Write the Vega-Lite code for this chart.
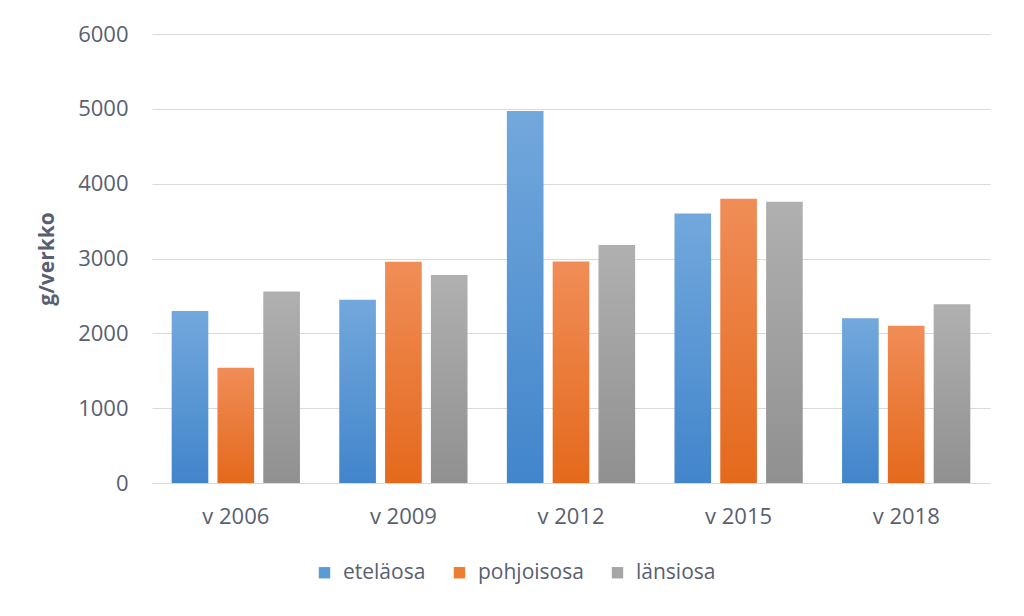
{
  "$schema": "https://vega.github.io/schema/vega-lite/v6.json",
  "width": 838,
  "height": 449,
  "autosize": {"type": "none"},
  "padding": {"left": 152, "top": 34, "right": 34, "bottom": 133},
  "background": "white",
  "config": {
    "view": {"stroke": null},
    "font": "Open Sans",
    "axis": {"labelFont": "Open Sans", "titleFont": "Open Sans"},
    "legend": {"labelFont": "Open Sans"}
  },
  "data": {
    "values": [
      {"vuosi": "v 2006", "osa": "eteläosa", "g": 2300},
      {"vuosi": "v 2006", "osa": "pohjoisosa", "g": 1540},
      {"vuosi": "v 2006", "osa": "länsiosa", "g": 2560},
      {"vuosi": "v 2009", "osa": "eteläosa", "g": 2450},
      {"vuosi": "v 2009", "osa": "pohjoisosa", "g": 2955},
      {"vuosi": "v 2009", "osa": "länsiosa", "g": 2780},
      {"vuosi": "v 2012", "osa": "eteläosa", "g": 4970},
      {"vuosi": "v 2012", "osa": "pohjoisosa", "g": 2960},
      {"vuosi": "v 2012", "osa": "länsiosa", "g": 3180},
      {"vuosi": "v 2015", "osa": "eteläosa", "g": 3600},
      {"vuosi": "v 2015", "osa": "pohjoisosa", "g": 3800},
      {"vuosi": "v 2015", "osa": "länsiosa", "g": 3760},
      {"vuosi": "v 2018", "osa": "eteläosa", "g": 2200},
      {"vuosi": "v 2018", "osa": "pohjoisosa", "g": 2100},
      {"vuosi": "v 2018", "osa": "länsiosa", "g": 2390}
    ]
  },
  "encoding": {
    "x": {
      "field": "vuosi",
      "type": "nominal",
      "scale": {"paddingInner": 0.18, "paddingOuter": 0.09},
      "axis": {
        "title": null,
        "labelAngle": 0,
        "labelFontSize": 22,
        "labelColor": "#586070",
        "labelPadding": 23,
        "ticks": false,
        "domain": false,
        "grid": false
      }
    },
    "xOffset": {
      "field": "osa",
      "type": "nominal",
      "scale": {"domain": ["eteläosa", "pohjoisosa", "länsiosa"], "paddingInner": 0.2, "paddingOuter": 0.1}
    },
    "y": {
      "field": "g",
      "type": "quantitative",
      "scale": {"domain": [0, 6000], "nice": false},
      "axis": {
        "title": "g/verkko",
        "titleFontSize": 21,
        "titleFontWeight": "bold",
        "titleColor": "#586070",
        "titlePadding": 20,
        "values": [0, 1000, 2000, 3000, 4000, 5000, 6000],
        "format": "d",
        "labelFontSize": 22,
        "labelColor": "#586070",
        "labelPadding": 24,
        "ticks": false,
        "domain": false,
        "gridColor": "#d9d9d9",
        "gridWidth": 1.2
      }
    }
  },
  "layer": [
    {
      "transform": [{"filter": "datum.osa === 'eteläosa'"}],
      "mark": {"type": "bar", "fill": {"gradient": "linear", "x1": 0, "y1": 0, "x2": 0, "y2": 1, "stops": [{"offset": 0, "color": "#72a8dc"}, {"offset": 1, "color": "#4285cb"}]}}
    },
    {
      "transform": [{"filter": "datum.osa === 'pohjoisosa'"}],
      "mark": {"type": "bar", "fill": {"gradient": "linear", "x1": 0, "y1": 0, "x2": 0, "y2": 1, "stops": [{"offset": 0, "color": "#f08d57"}, {"offset": 1, "color": "#e4691c"}]}}
    },
    {
      "transform": [{"filter": "datum.osa === 'länsiosa'"}],
      "mark": {"type": "bar", "fill": {"gradient": "linear", "x1": 0, "y1": 0, "x2": 0, "y2": 1, "stops": [{"offset": 0, "color": "#b0b0b0"}, {"offset": 1, "color": "#909090"}]}}
    },
    {
      "mark": {"type": "point", "filled": true, "opacity": 0, "shape": "square"},
      "encoding": {
        "color": {
          "field": "osa",
          "type": "nominal",
          "sort": ["eteläosa", "pohjoisosa", "länsiosa"],
          "scale": {"domain": ["eteläosa", "pohjoisosa", "länsiosa"], "range": ["#5b9bd5", "#ed7d31", "#a5a5a5"]},
          "legend": {
            "title": null,
            "orient": "none",
            "direction": "horizontal",
            "legendX": 162,
            "legendY": 528,
            "symbolType": "square",
            "symbolSize": 130,
            "symbolOpacity": 1,
            "symbolStrokeWidth": 0,
            "labelFontSize": 21,
            "labelColor": "#586070",
            "columnPadding": 23,
            "labelOffset": 8
          }
        }
      }
    }
  ]
}
